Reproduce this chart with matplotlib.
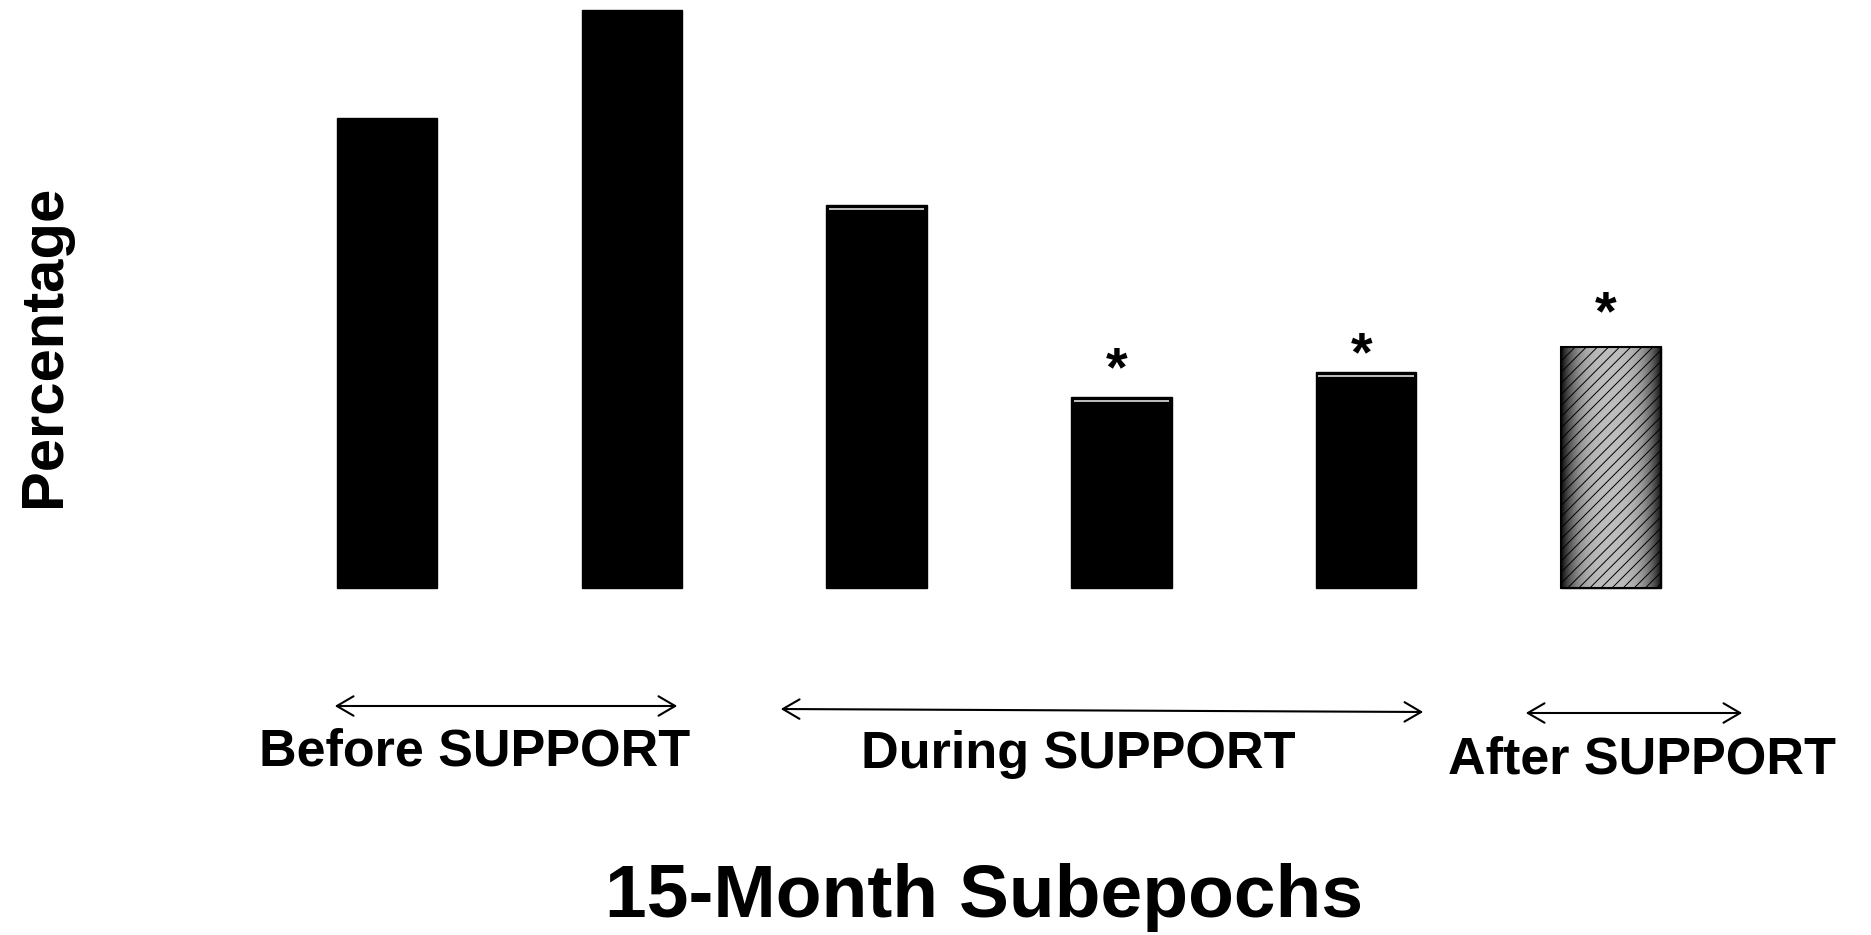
import numpy as np
import matplotlib.pyplot as plt
from matplotlib.patches import FancyArrowPatch

# bar heights (relative percentage)
subepochs = ["Before 1", "Before 2", "During 1", "During 2", "During 3", "After 1"]
percentage = [81.3, 100.0, 66.3, 33.0, 37.4, 41.7]
significant = [False, False, False, True, True, True]
phases = ["Before SUPPORT", "During SUPPORT", "After SUPPORT"]
shaded = [False, False, False, False, False, True]

W, H = 1871, 935
plt.rcParams["font.family"] = ["Liberation Sans", "DejaVu Sans"]
plt.rcParams["font.weight"] = "bold"
plt.rcParams["hatch.color"] = "#555555"
plt.rcParams["hatch.linewidth"] = 0.7

fig = plt.figure(figsize=(W / 100, H / 100), dpi=100)
ax = fig.add_axes([0, 0, 1, 1])
ax.axis("off")


def px(x, y):
    # pixel (from top-left) -> figure fraction
    return (x / W, 1 - y / H)


x = np.arange(len(subepochs))
bw = 0.41
bars = ax.bar(x, percentage, width=bw, color="black", edgecolor="black", linewidth=1)
ax.set_xlim(-1.581, 6.062)
ax.set_ylim(-60.03, 101.73)

# shaded (cylinder-like) look for the last bar
t = np.linspace(-1, 1, 200)
profile = 0.74 - 0.70 * np.abs(t) ** 3
for i, b in enumerate(bars):
    if shaded[i]:
        b.set_facecolor("none")
        im = ax.imshow(profile[None, :], cmap="gray", vmin=0, vmax=1, aspect="auto",
                       extent=[x[i] - bw / 2, x[i] + bw / 2, 0, percentage[i]], zorder=2)
        im.set_clip_path(b)
        ax.bar(x[i], percentage[i], width=bw, fill=False, hatch="///",
               edgecolor="black", linewidth=1.5, zorder=3)
        ax.set_xlim(-1.581, 6.062)
        ax.set_ylim(-60.03, 101.73)
    elif i >= 2:
        # thin light highlight just under the top
        ax.hlines(percentage[i] - 0.7, x[i] - bw / 2 + 0.01, x[i] + bw / 2 - 0.01,
                  color="#cfcfcf", lw=1.3, zorder=3)

# asterisks for significant bars
star_pad = [0, 0, 0, 8.5, 1, 12.5]
for i, v in enumerate(percentage):
    if significant[i]:
        ax.annotate("*", xy=(x[i] - 0.02, v), xytext=(0, star_pad[i]), textcoords="offset points",
                    ha="center", va="baseline", fontsize=40, fontweight="bold")

# phase arrows and labels
arrows = [((332, 706), (680, 706)), ((778, 709), (1426, 712)), ((1523, 713), (1745, 713))]
label_pos = [(475, 766), (1078, 768), (1642, 774)]
for (a, b), name, (lx, ly) in zip(arrows, phases, label_pos):
    fig.add_artist(FancyArrowPatch(
        px(*a), px(*b), transform=fig.transFigure,
        arrowstyle="<->,head_length=0.6,head_width=0.35", mutation_scale=20,
        lw=1.5, color="black"))
    fig.text(*px(lx, ly), name, ha="center", va="baseline", fontsize=37.5, fontweight="bold")

fig.text(*px(984, 917), "15-Month Subepochs", ha="center", va="baseline",
         fontsize=54, fontweight="bold")
fig.text(*px(45, 346), "Percentage", ha="center", va="center", rotation=90,
         fontsize=43, fontweight="bold")

fig.savefig("out.png", dpi=100, facecolor="white")
